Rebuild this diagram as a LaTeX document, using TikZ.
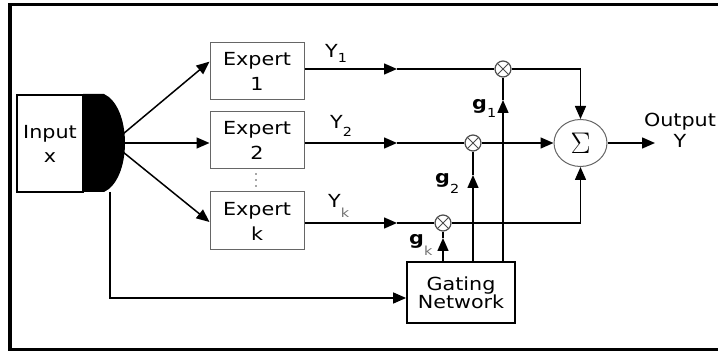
\documentclass[tikz,border=0pt]{standalone}
\usepackage{fontspec}
\newfontfamily\dv[FakeStretch=1.15]{DejaVu Sans}
\newcommand\mysub{\fontsize{12.5}{12.5}\selectfont}
\usetikzlibrary{arrows.meta,shapes.geometric,calc}
\tikzset{
  txt/.style={font=\dv\fontsize{18}{24}\selectfont, inner sep=0pt},
  lbl/.style={txt, align=center},
  expbox/.style={draw=black!60, line width=1pt, minimum width=94pt, minimum height=57pt, lbl, font=\dv\fontsize{18}{25}\selectfont},
  conn/.style={line width=1.5pt},
  tip/.style={-{Triangle[length=13pt,width=11pt]}},
  mult/.style={circle, draw=black!70, line width=1.2pt, minimum size=16pt, inner sep=0pt,
    path picture={\draw[line width=1pt] (path picture bounding box.north west) -- (path picture bounding box.south east)
      (path picture bounding box.north east) -- (path picture bounding box.south west);}},
  glbl/.style={txt, anchor=base west, font=\dv\bfseries\fontsize{18}{18}\selectfont},
  dotmark/.style={circle, fill=black!70, inner sep=0pt, minimum size=1.6pt},
}
\begin{document}
\begin{tikzpicture}[x=1pt,y=-1pt]
\useasboundingbox (0,0) rectangle (718,352);
% frame
\draw[line width=3.5pt] (730,4.5) -- (10,4.5) -- (10,349.5) -- (730,349.5);

% input
\node[draw, line width=1.5pt, minimum width=66pt, minimum height=97pt, lbl] (input) at (50,143.5) {Input\\x};
\fill (83,94) -- (104,94) .. controls (117,100) and (125,120) .. (125,143) .. controls (125,166) and (117,186) .. (104,192) -- (83,192) -- cycle;
\coordinate (oA) at (123,134);
\coordinate (oB) at (125,143);
\coordinate (oC) at (123,152);
\coordinate (oD) at (110,192);

% experts
\node[expbox] (e1) at (257,71.5) {Expert\\1};
\node[expbox] (e2) at (257,140.5) {Expert\\2};
\node[expbox, minimum height=58pt] (ek) at (257,221) {Expert\\k};
\node[dotmark] (d1) at (256,174) {};
\node[dotmark] (d2) at (256,180) {};
\node[dotmark] (d3) at (256,186) {};

\draw[conn,tip] (oA) -- ($(e1.north west)!0.33!(e1.south west)$);
\draw[conn,tip] (oB) -- (e2.west |- oB);
\draw[conn,tip] (oC) -- ($(ek.west)+(0,1)$);

% multipliers
\node[mult] (m1) at (503,69) {};
\node[mult] (m2) at (473,143) {};
\node[mult] (mk) at (443,223) {};

% expert outputs
\coordinate (a1) at (397,69);
\coordinate (a2) at (397,143);
\coordinate (ak) at (397,223);
\draw[conn,tip] (e1.east |- a1) -- (a1);
\draw[conn] (a1) -- (m1.west);
\draw[conn,tip] (e2.east |- a2) -- (a2);
\draw[conn] (a2) -- (m2.west);
\draw[conn,tip] (ek.east |- ak) -- (ak);
\draw[conn] (ak) -- (mk.west);

\node[txt, anchor=base west] (y1) at (325,58) {Y\lower5pt\hbox{\mysub 1}};
\node[txt, anchor=base west] (y2) at (330,129) {Y\lower8pt\hbox{\mysub 2}};
\node[txt, anchor=base west] (yk) at (328,208) {Y\lower10pt\hbox{\mysub\color{black!55}k}};

% gating network
\node[draw, line width=1.8pt, minimum width=108pt, minimum height=61pt, lbl, font=\dv\fontsize{18}{18}\selectfont] (gate) at (461,292.5) {Gating\\Network};
\draw[conn,tip] (oD) |- ($(gate.west)+(0,5.5)$);

\coordinate (b1) at (503,100);
\coordinate (b2) at (473,175);
\coordinate (bk) at (443,238);
\draw[conn,tip] (gate.north -| b1) -- (b1);
\draw[conn] (b1) -- (m1.south);
\draw[conn,tip] (gate.north -| b2) -- (b2);
\draw[conn] (b2) -- (m2.south);
\draw[conn,tip] (gate.north -| bk) -- (bk);
\draw[conn] (bk) -- (mk.south);

\node[glbl] (g1) at (472,110) {g\lower8pt\hbox{\mdseries\mysub 1}};
\node[glbl] (g2) at (435,184) {g\lower10pt\hbox{\mdseries\mysub 2}};
\node[glbl] (gk) at (409,245) {g\lower11pt\hbox{\mdseries\mysub\color{black!55}k}};

% sum
\node[ellipse, draw=black!60, line width=1pt, minimum width=53pt, minimum height=47pt, inner sep=0pt] (sum) at (580.5,143) {\scalebox{1.2}{\fontsize{24.88}{25}\selectfont$\Sigma$}};
\draw[conn,tip] (m1.east) -| (sum.north);
\draw[conn,tip] (m2.east) -- (sum.west);
\draw[conn,tip] (mk.east) -| (sum.south);
\coordinate (oe) at (655,143);
\draw[conn,tip] (sum.east) -- (oe);
\node[lbl, font=\dv\fontsize{18}{21}\selectfont] (out) at (680,130.7) {Output\\Y};
\end{tikzpicture}
\end{document}
